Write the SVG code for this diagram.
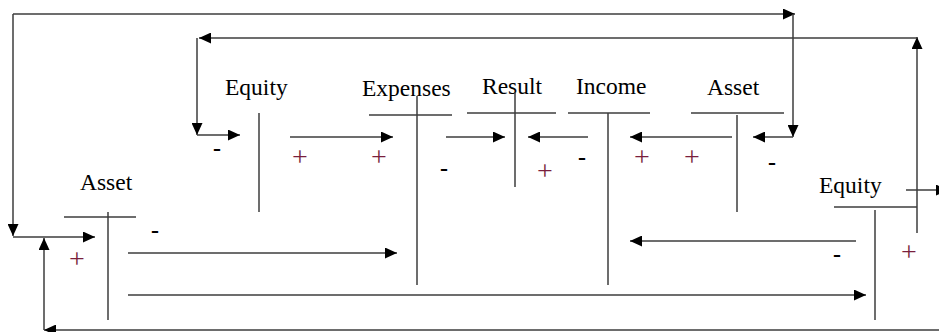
<svg xmlns="http://www.w3.org/2000/svg" width="939" height="332" viewBox="0 0 939 332">
<defs>
<marker id="ah" markerUnits="userSpaceOnUse" markerWidth="12" markerHeight="11" refX="12" refY="5.5" orient="auto">
<path d="M0,0 L12,5.5 L0,11 z" fill="#000"/>
</marker>
<style>
.ln{stroke:#3c3c3c;stroke-width:1.5;fill:none}
.ar{stroke:#3c3c3c;stroke-width:1.5;fill:none;marker-end:url(#ah)}
.lbl{font-family:"Liberation Serif","Times New Roman",serif;font-size:23.5px;fill:#000}
.pl{font-family:"Liberation Serif","Times New Roman",serif;font-size:28px;fill:#7a1f3d;text-anchor:middle}
.mi{font-family:"Liberation Serif","Times New Roman",serif;font-size:24px;font-weight:bold;fill:#000;text-anchor:middle}
</style>
</defs>
<rect width="939" height="332" fill="#fff"/>

<g id="equity-top">
<text class="lbl" x="225" y="95">Equity</text>
<line class="ln" x1="259" y1="113" x2="259" y2="212"/>
<text class="mi" x="217" y="156">-</text>
<text class="pl" x="300" y="166">+</text>
</g>

<g id="expenses">
<text class="lbl" x="362" y="96">Expenses</text>
<line class="ln" x1="369" y1="115" x2="452" y2="115"/>
<line class="ln" x1="417" y1="96" x2="417" y2="285"/>
<text class="pl" x="379" y="166">+</text>
<text class="mi" x="444" y="176">-</text>
</g>

<g id="result">
<text class="lbl" x="482" y="94">Result</text>
<line class="ln" x1="467" y1="113" x2="556" y2="113"/>
<line class="ln" x1="515" y1="92" x2="515" y2="187"/>
<text class="pl" x="545" y="180">+</text>
</g>

<g id="income">
<text class="lbl" x="576" y="94">Income</text>
<line class="ln" x1="568" y1="113" x2="650" y2="113"/>
<line class="ln" x1="608" y1="113" x2="608" y2="285"/>
<text class="mi" x="582" y="165">-</text>
<text class="pl" x="642" y="166">+</text>
</g>

<g id="asset-top">
<text class="lbl" x="707" y="95">Asset</text>
<line class="ln" x1="691" y1="113" x2="784" y2="113"/>
<line class="ln" x1="737" y1="115" x2="737" y2="212"/>
<text class="pl" x="692" y="166">+</text>
<text class="mi" x="772" y="170">-</text>
</g>

<g id="equity-right">
<text class="lbl" x="819" y="193">Equity</text>
<line class="ln" x1="834" y1="207" x2="917" y2="207"/>
<line class="ln" x1="875" y1="210" x2="875" y2="320"/>
<text class="mi" x="837" y="262">-</text>
<text class="pl" x="909" y="261">+</text>
</g>

<g id="asset-bottom">
<text class="lbl" x="80" y="190">Asset</text>
<line class="ln" x1="64" y1="217" x2="136" y2="217"/>
<line class="ln" x1="108" y1="212" x2="108" y2="320"/>
<text class="mi" x="155" y="238">-</text>
<text class="pl" x="77" y="268">+</text>
</g>

<g id="connectors">
<path class="ar" d="M13,14 L795,14"/>
<path class="ar" d="M13,14 L13,236"/>
<path class="ar" d="M13,237 L95,237"/>
<path class="ar" d="M793,14 L793,137"/>
<path class="ar" d="M793,137 L753,137"/>

<path class="ar" d="M917,233 L917,37"/>
<path class="ar" d="M917,38 L199,38"/>
<path class="ar" d="M197,38 L197,135"/>
<path class="ar" d="M197,135 L240,135"/>
<path class="ar" d="M906,190 L948,190"/>

<path class="ar" d="M939,330 L44,330"/>
<path class="ar" d="M44,330 L44,238"/>

<path class="ar" d="M290,137 L393,137"/>
<path class="ar" d="M446,137 L505,137"/>
<path class="ar" d="M588,137 L528,137"/>
<path class="ar" d="M732,137 L630,137"/>
<path class="ar" d="M856,241 L630,241"/>
<path class="ar" d="M128,253 L397,253"/>
<path class="ar" d="M128,295 L866,295"/>
</g>
</svg>
